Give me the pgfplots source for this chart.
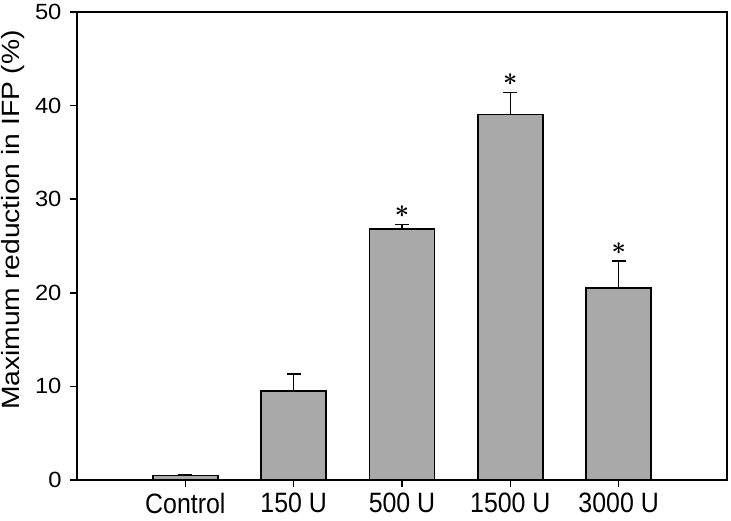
\documentclass[border=0pt]{standalone}
\usepackage{pgfplots}
\pgfplotsset{compat=1.18}
\usepackage{fontspec}
\setmainfont{Liberation Sans}
\newfontfamily\xtickfont[FakeStretch=0.89]{Liberation Sans}
\newfontfamily\ytickfont[FakeStretch=1.08]{Liberation Sans}
\newfontfamily\ylabfont[FakeStretch=1.13]{Liberation Sans}
\definecolor{barfill}{HTML}{A9A9A9}
\begin{document}
\begin{tikzpicture}
\begin{axis}[
  scale only axis,
  width=650pt, height=468pt,
  xmin=-1, xmax=5,
  ymin=0, ymax=50,
  ytick={0,10,20,30,40,50},
  xtick={0,1,2,3,4},
  xticklabels={Control,150 U,500 U,1500 U,3000 U},
  tick align=outside,
  xtick pos=bottom, ytick pos=left,
  major tick length=7pt,
  axis line style={line width=1.6pt},
  every tick/.style={line width=1.6pt, black},
  /pgf/number format/assume math mode=true,
  yticklabel style={font=\ytickfont\fontsize{22}{26}\selectfont, xshift=-5pt},
  xticklabel style={font=\xtickfont\fontsize{28}{32}\selectfont, yshift=-5pt, inner sep=1pt},
  ylabel={Maximum reduction in IFP (\%)},
  ylabel style={font=\ylabfont\fontsize{25}{30}\selectfont, yshift=3pt, xshift=26pt},
  clip=false,
]
\addplot[ybar, bar width=0.6, fill=barfill, draw=black, line width=1.5pt,
  error bars/.cd, y dir=plus, y explicit,
  error bar style={line width=1.5pt},
  error mark options={rotate=90, mark size=7pt, line width=1.5pt}]
  coordinates {
  (0,0.5) +- (0,0.05)
  (1,9.5) +- (0,1.85)
  (2,26.8) +- (0,0.5)
  (3,39.05) +- (0,2.35)
  (4,20.5) +- (0,2.9)
  };
\addplot[draw=none, mark=none, point meta=explicit symbolic,
  nodes near coords, nodes near coords align={anchor=center},
  every node near coord/.append style={yshift=12.5pt, font=\boldmath\fontsize{28}{32}\selectfont}]
  coordinates {
  (2,27.3) [$\ast$]
  (3,41.4) [$\ast$]
  (4,23.4) [$\ast$]
  };
\end{axis}
\pgfresetboundingbox
\path[use as bounding box] (-77pt,-41pt) rectangle (654pt,480pt);
\end{tikzpicture}
\end{document}
